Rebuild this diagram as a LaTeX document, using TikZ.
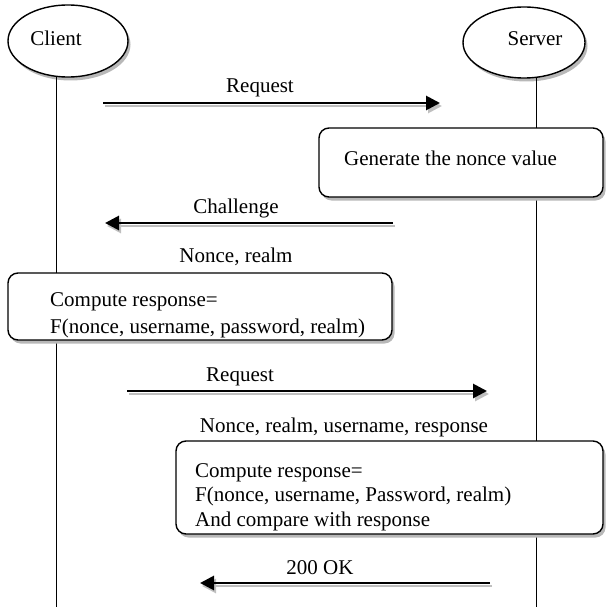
\documentclass[tikz,border=0pt]{standalone}
\usepackage{fontspec}
\setmainfont{Liberation Serif}
\usetikzlibrary{shapes.geometric,shadows,arrows.meta}
\begin{document}
\begin{tikzpicture}[x=1pt,y=-1pt,
  txt/.style={inner sep=0pt, anchor=base, font=\fontsize{21}{25}\selectfont},
  ltxt/.style={txt, anchor=base west},
  shad/.style={drop shadow={shadow xshift=2.5pt, shadow yshift=-3.5pt, fill=black!28, opacity=1}},
  actor/.style={ellipse, draw, line width=1.4pt, fill=white, inner sep=0pt, shad},
  procbox/.style={rectangle, rounded corners=10pt, draw, line width=1.4pt, fill=white, inner sep=0pt, shad},
  lifeline/.style={line width=0.9pt},
  msg/.style={line width=2.8pt, -{Triangle[length=14pt,width=14pt]}},
  msgshadow/.style={msg, black!25},
]
\useasboundingbox (0,0) rectangle (605,607);

% actors
\node[actor, minimum width=120pt, minimum height=72pt] (client) at (68,41) {};
\node[actor, minimum width=122pt, minimum height=71pt] (server) at (524,42.5) {};
\node[txt] (clientlbl) at (56,46) {Client};
\node[txt] (serverlbl) at (535,46) {Server};

% lifelines
\coordinate (ctop) at (56,76.5);
\coordinate (cbot) at (56,607);
\coordinate (stop) at (536,77.5);
\coordinate (sbot) at (536,607);
\draw[lifeline] (ctop) -- (cbot);
\draw[lifeline] (stop) -- (sbot);

% process boxes
\node[procbox, minimum width=284pt, minimum height=69pt] (gen) at (461,162.5) {};
\node[ltxt] (gentxt) at (344,165) {Generate the nonce value};

\node[procbox, minimum width=384pt, minimum height=67pt] (cc) at (200,306.5) {};
\node[ltxt] (cc1) at (50,306) {Compute response=};
\node[ltxt] (cc2) at (50,333) {F(nonce, username, password, realm)};

\node[procbox, minimum width=427pt, minimum height=93pt] (sc) at (389.5,487.5) {};
\node[ltxt] (sc1) at (195,477) {Compute response=};
\node[ltxt] (sc2) at (195,501) {F(nonce, username, Password, realm)};
\node[ltxt] (sc3) at (195,526) {And compare with response};

% messages
\coordinate (r1a) at (103,103);  \coordinate (r1b) at (440,103);
\coordinate (c1a) at (393,223);  \coordinate (c1b) at (105,223);
\coordinate (r2a) at (127,391);  \coordinate (r2b) at (487,391);
\coordinate (okA) at (490,583);  \coordinate (okB) at (200,583);

\foreach \a/\b in {r1a/r1b, c1a/c1b, r2a/r2b, okA/okB}{
  \draw[msgshadow] ([shift={(2,3)}]\a) -- ([shift={(2,3)}]\b);
  \draw[msg] (\a) -- (\b);
}

\node[txt] (l1) at (260,93) {Request};
\node[txt] (l2) at (236,213) {Challenge};
\node[txt] (l3) at (236,262) {Nonce, realm};
\node[txt] (l4) at (240,381) {Request};
\node[txt] (l5) at (344,432) {Nonce, realm, username, response};
\node[txt] (l6) at (320,574) {200 OK};
\end{tikzpicture}
\end{document}
